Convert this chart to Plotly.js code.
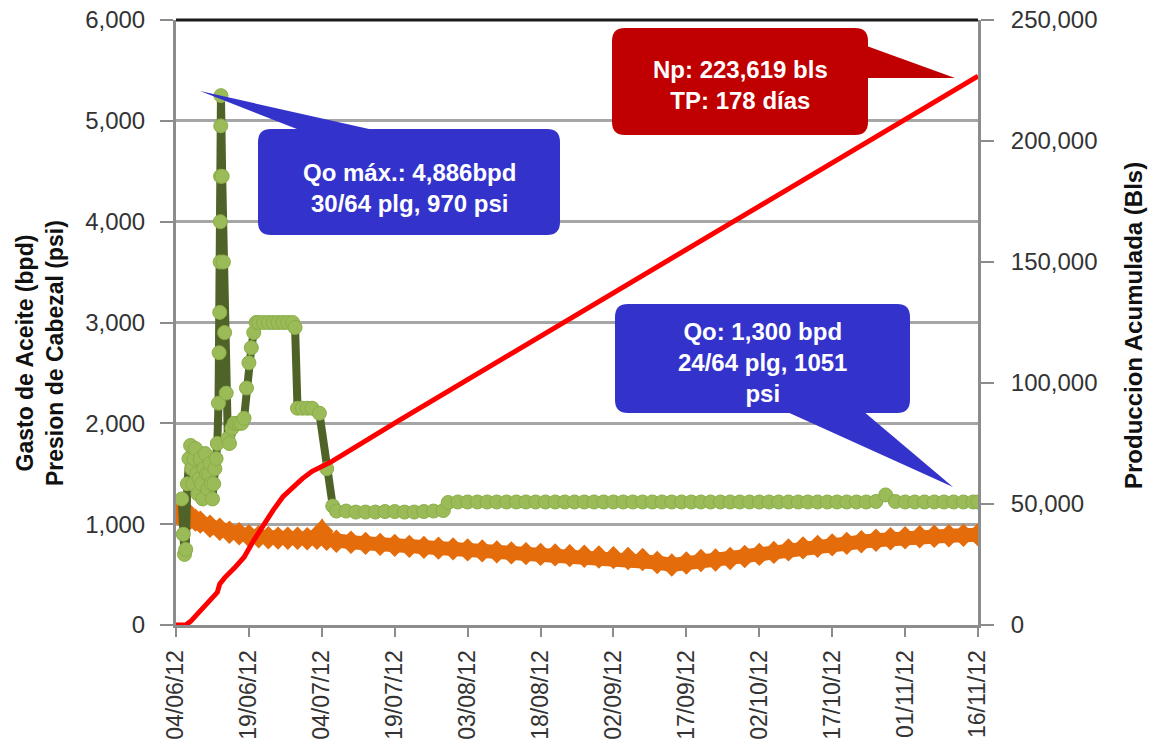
<!DOCTYPE html>
<html><head><meta charset="utf-8">
<script src="https://cdn.plot.ly/plotly-3.0.1.min.js"></script>
<style>html,body{margin:0;padding:0;background:#fff}#chart{width:1153px;height:751px}</style>
</head><body><div id="chart"></div>
<script>
// ---- axis ticks ----
const tickDates = ['2012-06-04','2012-06-19','2012-07-04','2012-07-19','2012-08-03','2012-08-18','2012-09-02','2012-09-17','2012-10-02','2012-10-17','2012-11-01','2012-11-16'];
const tickLabels = ['04/06/12','19/06/12','04/07/12','19/07/12','03/08/12','18/08/12','02/09/12','17/09/12','02/10/12','17/10/12','01/11/12','16/11/12'];
const leftTicks = [0,1000,2000,3000,4000,5000,6000];
const rightTicks = [0,50000,100000,150000,200000,250000];

// ---- Gasto de Aceite (bpd) ----
const oilDates = [
'2012-06-05 04:00','2012-06-05 12:00','2012-06-05 18:00','2012-06-06 00:00','2012-06-06 08:00','2012-06-06 16:00',
'2012-06-07 00:00','2012-06-07 06:00','2012-06-07 12:00','2012-06-07 18:00','2012-06-08 00:00','2012-06-08 06:00','2012-06-08 12:00','2012-06-08 18:00','2012-06-09 00:00','2012-06-09 06:00','2012-06-09 12:00','2012-06-09 18:00',
'2012-06-10 00:00','2012-06-10 06:00','2012-06-10 12:00','2012-06-10 18:00','2012-06-11 00:00','2012-06-11 06:00','2012-06-11 12:00','2012-06-11 18:00','2012-06-12 00:00','2012-06-12 06:00','2012-06-12 12:00',
'2012-06-12 18:00','2012-06-12 21:00','2012-06-13 00:00','2012-06-13 02:00','2012-06-13 03:00','2012-06-13 04:00',
'2012-06-13 05:00','2012-06-13 06:00','2012-06-13 12:00','2012-06-13 18:00','2012-06-14 00:00','2012-06-14 08:00',
'2012-06-14 16:00','2012-06-15 00:00','2012-06-15 12:00','2012-06-16 00:00','2012-06-16 12:00','2012-06-17 00:00',
'2012-06-17 12:00','2012-06-18 00:00','2012-06-18 12:00','2012-06-19 00:00','2012-06-19 12:00','2012-06-20 00:00',
'2012-06-20 12:00','2012-06-21','2012-06-22','2012-06-23','2012-06-24','2012-06-25','2012-06-26','2012-06-27',
'2012-06-28','2012-06-28 12:00','2012-06-29','2012-06-30','2012-07-01','2012-07-02','2012-07-03 12:00','2012-07-05',
'2012-07-06 06:00',
'2012-07-07','2012-07-09','2012-07-11','2012-07-13','2012-07-15','2012-07-17','2012-07-19','2012-07-21','2012-07-23',
'2012-07-25','2012-07-27','2012-07-29',
'2012-07-30',
'2012-08-01','2012-08-03','2012-08-05','2012-08-07','2012-08-09','2012-08-11','2012-08-13','2012-08-15',
'2012-08-17','2012-08-19','2012-08-21','2012-08-23','2012-08-25','2012-08-27','2012-08-29','2012-08-31',
'2012-09-02','2012-09-04','2012-09-06','2012-09-08','2012-09-10','2012-09-12','2012-09-14','2012-09-16',
'2012-09-18','2012-09-20','2012-09-22','2012-09-24','2012-09-26','2012-09-28','2012-09-30',
'2012-10-02','2012-10-04','2012-10-06','2012-10-08','2012-10-10','2012-10-12','2012-10-14','2012-10-16',
'2012-10-18','2012-10-20','2012-10-22','2012-10-24','2012-10-26','2012-10-28','2012-10-30',
'2012-11-01','2012-11-03','2012-11-05','2012-11-07','2012-11-09','2012-11-11','2012-11-13','2012-11-15',
'2012-11-16'];
const oilRate = [
1250,900,700,750,1400,1650,
1780,1550,1400,1650,1750,1500,1300,1450,1650,1400,1250,1550,
1700,1500,1350,1500,1600,1400,1250,1400,1550,1650,1800,
2200,2700,3100,3600,4000,4450,
4950,5250,4450,3600,2900,2300,
1850,1800,1950,2000,2000,2000,
2000,2050,2350,2600,2750,2900,
3000,3000,3000,3000,3000,3000,3000,3000,
3000,2950,2150,2150,2150,2150,2100,1550,
1180,
1130,1130,1120,1120,1120,1125,1125,1120,1120,
1125,1130,1135,
1215,
1220,1220,1220,1220,1220,1220,1220,1220,
1220,1220,1220,1220,1220,1220,1220,1220,
1220,1220,1220,1220,1220,1220,1220,1220,
1220,1220,1220,1220,1220,1220,1220,
1220,1220,1220,1220,1220,1220,1220,1220,
1220,1220,1220,1220,1225,1290,1225,
1220,1220,1220,1220,1220,1220,1220,1220,
1220];

// ---- Presion de Cabezal (psi) ----
const presDates = [
'2012-06-04 12:00','2012-06-05','2012-06-05 12:00','2012-06-06','2012-06-07','2012-06-08','2012-06-09','2012-06-11',
'2012-06-13','2012-06-15','2012-06-17','2012-06-19','2012-06-21','2012-06-23','2012-06-25','2012-06-27','2012-06-29',
'2012-07-01','2012-07-03','2012-07-04','2012-07-05',
'2012-07-07','2012-07-10','2012-07-13','2012-07-16','2012-07-19','2012-07-22','2012-07-25','2012-07-28','2012-07-31',
'2012-08-03','2012-08-06','2012-08-09','2012-08-12','2012-08-15','2012-08-18','2012-08-21','2012-08-24','2012-08-27','2012-08-30',
'2012-09-02','2012-09-05','2012-09-08','2012-09-11','2012-09-14','2012-09-17','2012-09-20','2012-09-23','2012-09-26','2012-09-29',
'2012-10-02','2012-10-05','2012-10-08','2012-10-11','2012-10-14','2012-10-17','2012-10-20','2012-10-23','2012-10-26','2012-10-29',
'2012-11-01','2012-11-04','2012-11-07','2012-11-10','2012-11-13','2012-11-16'];
const presValues = [
1100,1120,1150,1100,1060,1040,1020,980,
950,920,905,885,875,865,862,860,860,
855,860,930,850,
830,820,810,800,790,780,770,762,755,
745,735,725,715,708,700,695,688,682,675,
668,660,650,620,595,615,640,645,660,680,
700,720,745,765,780,795,810,825,840,855,
865,875,880,885,890,895];

// ---- Produccion Acumulada (Bls) ----
const cumDates = ['2012-06-04','2012-06-06','2012-06-07','2012-06-09','2012-06-11','2012-06-12 12:00','2012-06-13',
'2012-06-14','2012-06-16','2012-06-18','2012-06-20','2012-06-22','2012-06-24','2012-06-26','2012-06-28','2012-06-30',
'2012-07-02','2012-07-04','2012-07-06','2012-07-20','2012-08-10','2012-09-01','2012-09-20','2012-10-10','2012-11-01','2012-11-16'];
const cumValues = [0,0,1500,6000,10500,13500,17000,
19500,23500,28000,35000,41500,47500,53000,57000,60500,
63500,65500,67500,84700,109800,136000,158700,182600,208900,226800];

// ---- geometry helpers (pixel -> paper) ----
const L=176, R=978, T=20, B=625;
const px = x => (x-L)/(R-L);
const py = y => (B-y)/(B-T);
function roundRect(x0,y0,x1,y1,r){
  const p=(x,y)=>px(x).toFixed(5)+','+py(y).toFixed(5);
  return 'M'+p(x0+r,y0)+' L'+p(x1-r,y0)+' Q'+p(x1,y0)+' '+p(x1,y0+r)+
    ' L'+p(x1,y1-r)+' Q'+p(x1,y1)+' '+p(x1-r,y1)+' L'+p(x0+r,y1)+' Q'+p(x0,y1)+' '+p(x0,y1-r)+
    ' L'+p(x0,y0+r)+' Q'+p(x0,y0)+' '+p(x0+r,y0)+' Z';
}
function poly(pts){
  return 'M'+pts.map(a=>px(a[0]).toFixed(5)+','+py(a[1]).toFixed(5)).join(' L')+' Z';
}
const BLUE='#3333CC', RED='#C00000';
const FONT='"Liberation Sans", Arial, sans-serif';

const traces = [
  {x: presDates, y: presValues, type:'scatter', mode:'lines+markers', name:'Presion',
   line:{color:'#E46C0A', width:14}, marker:{color:'#E46C0A', symbol:'diamond', size:18}},
  {x: oilDates, y: oilRate, type:'scatter', mode:'lines+markers', name:'Qo',
   line:{color:'#4F6228', width:8}, marker:{color:'#9BBB59', size:14, line:{color:'#8AAE47', width:1}}},
  {x: cumDates, y: cumValues, type:'scatter', mode:'lines', name:'Np', yaxis:'y2',
   line:{color:'#FF0000', width:5}}
];

const layout = {
  width:1153, height:751, showlegend:false,
  paper_bgcolor:'#fff', plot_bgcolor:'#fff',
  margin:{l:L, r:1153-R, t:T, b:751-B},
  font:{family:FONT, size:24, color:'#333'},
  xaxis:{type:'date', range:['2012-06-04','2012-11-16'], tickvals:tickDates, ticktext:tickLabels,
    tickangle:-90, ticks:'outside', ticklen:9, tickwidth:2, tickcolor:'#8c8c8c',
    showline:true, linecolor:'#8c8c8c', linewidth:3, showgrid:false, zeroline:false,
    tickfont:{family:FONT, size:23, color:'#333'}, ticklabelstandoff:4},
  yaxis:{range:[0,6000], tickvals:leftTicks, tickformat:',d', ticks:'outside', ticklen:13, tickwidth:2,
    tickcolor:'#8c8c8c', showline:true, linecolor:'#8c8c8c', linewidth:3,
    showgrid:true, gridcolor:'#a6a6a6', gridwidth:3, zeroline:false,
    tickfont:{family:FONT, size:24, color:'#333'}, ticklabelstandoff:10},
  yaxis2:{range:[0,250000], tickvals:rightTicks, tickformat:',d', overlaying:'y', side:'right',
    ticks:'outside', ticklen:13, tickwidth:2, tickcolor:'#8c8c8c', showline:true, linecolor:'#8c8c8c', linewidth:3,
    showgrid:false, zeroline:false, tickfont:{family:FONT, size:24, color:'#333'}, ticklabelstandoff:12},
  shapes:[
    {type:'line', xref:'paper', yref:'paper', x0:0, x1:1, y0:1, y1:1, line:{color:'#1a1a1a', width:3}},
    {type:'path', xref:'paper', yref:'paper', path:poly([[302,131],[200,91],[378,131]]), fillcolor:BLUE, line:{width:0}},
    {type:'path', xref:'paper', yref:'paper', path:roundRect(258,129,560,235,13), fillcolor:BLUE, line:{width:0}},
    {type:'path', xref:'paper', yref:'paper', path:poly([[785,411],[953,487],[863,411]]), fillcolor:BLUE, line:{width:0}},
    {type:'path', xref:'paper', yref:'paper', path:roundRect(615,304,910,413,13), fillcolor:BLUE, line:{width:0}},
    {type:'path', xref:'paper', yref:'paper', path:poly([[864,45],[955,78],[864,78]]), fillcolor:RED, line:{width:0}},
    {type:'path', xref:'paper', yref:'paper', path:roundRect(612,28,868,135,13), fillcolor:RED, line:{width:0}}
  ],
  annotations:[
    {xref:'paper', yref:'paper', x:px(409), y:py(188), xanchor:'center', yanchor:'middle', showarrow:false,
     text:'<b>Qo máx.: 4,886bpd<br>30/64 plg, 970 psi</b>', font:{family:FONT, size:24, color:'#fff'}},
    {xref:'paper', yref:'paper', x:px(762), y:py(362), xanchor:'center', yanchor:'middle', showarrow:false,
     text:'<b>Qo: 1,300 bpd<br>24/64 plg, 1051<br>psi</b>', font:{family:FONT, size:24, color:'#fff'}},
    {xref:'paper', yref:'paper', x:px(740), y:py(85), xanchor:'center', yanchor:'middle', showarrow:false,
     text:'<b>Np: 223,619 bls<br>TP: 178 días</b>', font:{family:FONT, size:24, color:'#fff'}},
    {xref:'paper', yref:'paper', x:px(40), y:py(353), xanchor:'center', yanchor:'middle', showarrow:false, textangle:-90,
     text:'<b>Gasto de Aceite (bpd)<br>Presion de Cabezal (psi)</b>', font:{family:FONT, size:23, color:'#111'}},
    {xref:'paper', yref:'paper', x:px(1133), y:py(326), xanchor:'center', yanchor:'middle', showarrow:false, textangle:-90,
     text:'<b>Produccion Acumulada (Bls)</b>', font:{family:FONT, size:24, color:'#111'}}
  ]
};

Plotly.newPlot('chart', traces, layout, {staticPlot:true, displayModeBar:false});
</script>
</body></html>
